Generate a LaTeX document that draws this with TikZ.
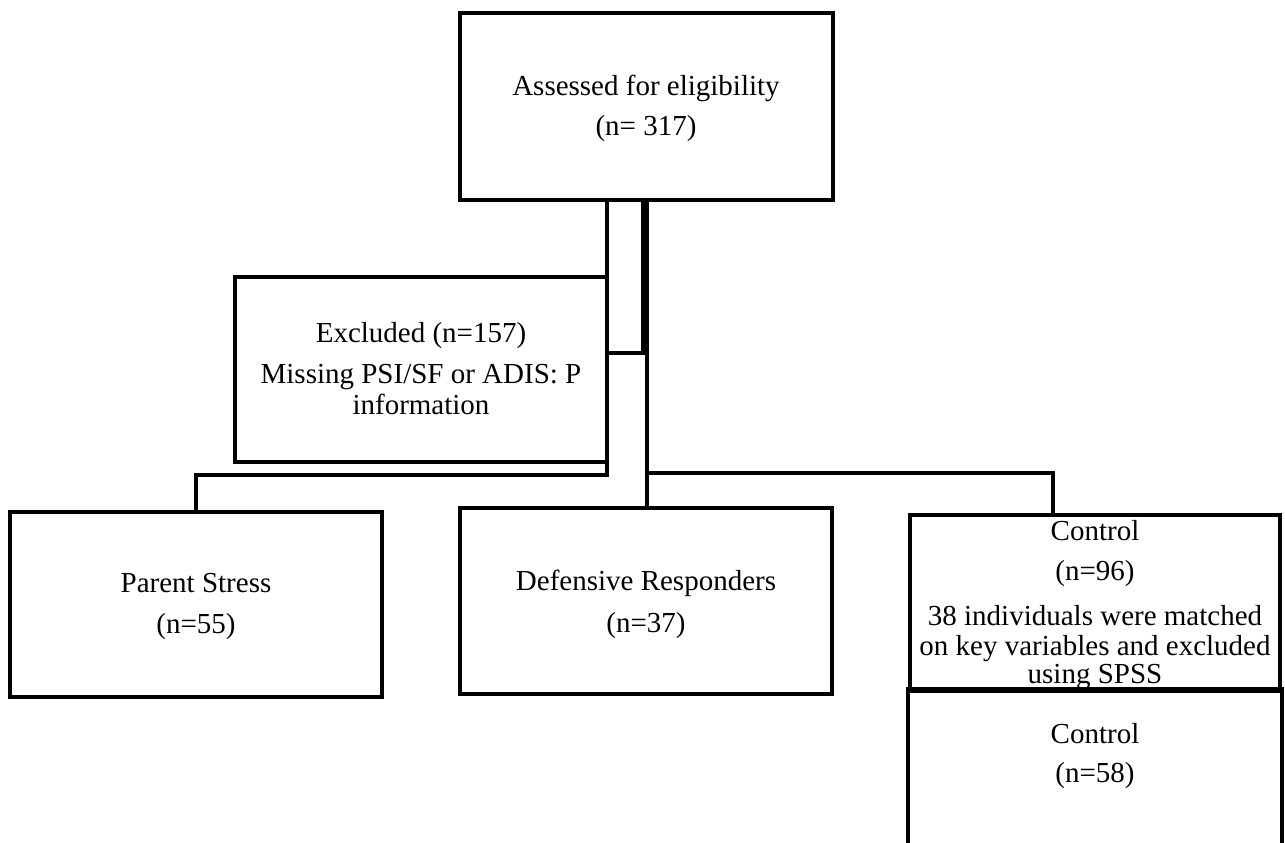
\documentclass[tikz,border=0pt]{standalone}
\usepackage{fontspec}
\setmainfont{Liberation Serif}
\tikzset{
  box/.style={draw,line width=2pt,rectangle,minimum width=186pt,minimum height=#1,inner sep=0pt},
  box/.default=92.5pt,
  lbl/.style={anchor=base,inner sep=0pt,font=\fontsize{14.5pt}{16pt}\selectfont},
  wire/.style={line width=2pt}
}
\begin{document}
\begin{tikzpicture}[x=0.5pt,y=-0.5pt]
\useasboundingbox (0,0) rectangle (1285,842);
% boxes
\node[box=93.5pt,minimum width=186.5pt] (assess) at (646.5,106.5) {};
\node[box] (excl) at (421,369.5) {};
\node[box] (parent) at (196,604.5) {};
\node[box=93pt] (def) at (646,601) {};
\node[box=88pt,minimum width=185pt] (ctrl) at (1095,603) {};
\node[box=84pt,minimum width=185pt,draw=none] (ctrlb) at (1095,775) {};
\draw[wire] (ctrlb.south west) -- (ctrlb.north west) -- (ctrlb.north east) -- (ctrlb.south east);
% texts
\node[lbl] (t1) at (646,95) {Assessed for eligibility};
\node[lbl] (t2) at (646,135) {(n= 317)};
\node[lbl] (e1) at (421,342) {Excluded (n=157)};
\node[lbl] (e2) at (421,383) {Missing PSI/SF or ADIS: P};
\node[lbl] (e3) at (421,414) {information};
\node[lbl] (p1) at (196,592) {Parent Stress};
\node[lbl] (p2) at (196,633) {(n=55)};
\node[lbl] (d1) at (646,590) {Defensive Responders};
\node[lbl] (d2) at (646,632) {(n=37)};
\node[lbl] (c1) at (1095,540) {Control};
\node[lbl] (c2) at (1095,580) {(n=96)};
\node[lbl] (c3) at (1095,625) {38 individuals were matched};
\node[lbl] (c4) at (1095,655) {on key variables and excluded};
\node[lbl] (c5) at (1095,683) {using SPSS};
\node[lbl] (c6) at (1095,743) {Control};
\node[lbl] (c7) at (1095,782) {(n=58)};
% connectors
\coordinate (j1) at (645,353);
\coordinate (j2) at (647,473);
\coordinate (rb) at (1053,473);
\draw[wire] ([xshift=-1pt]excl.north east) -- ([xshift=-1pt]excl.north east |- assess.south);
\draw[line width=4pt] (j1 |- assess.south) -- (j1);
\draw[wire] (excl.east |- j1) -- (j1);
\draw[wire] (j1 -| j2) -- (j2 |- def.north);
\draw[wire] (j2) -| (rb) -- (rb |- ctrl.north);
\draw[wire] ([xshift=-1pt]excl.south east) -- ++(0,11) -| (parent.north);
\end{tikzpicture}
\end{document}
